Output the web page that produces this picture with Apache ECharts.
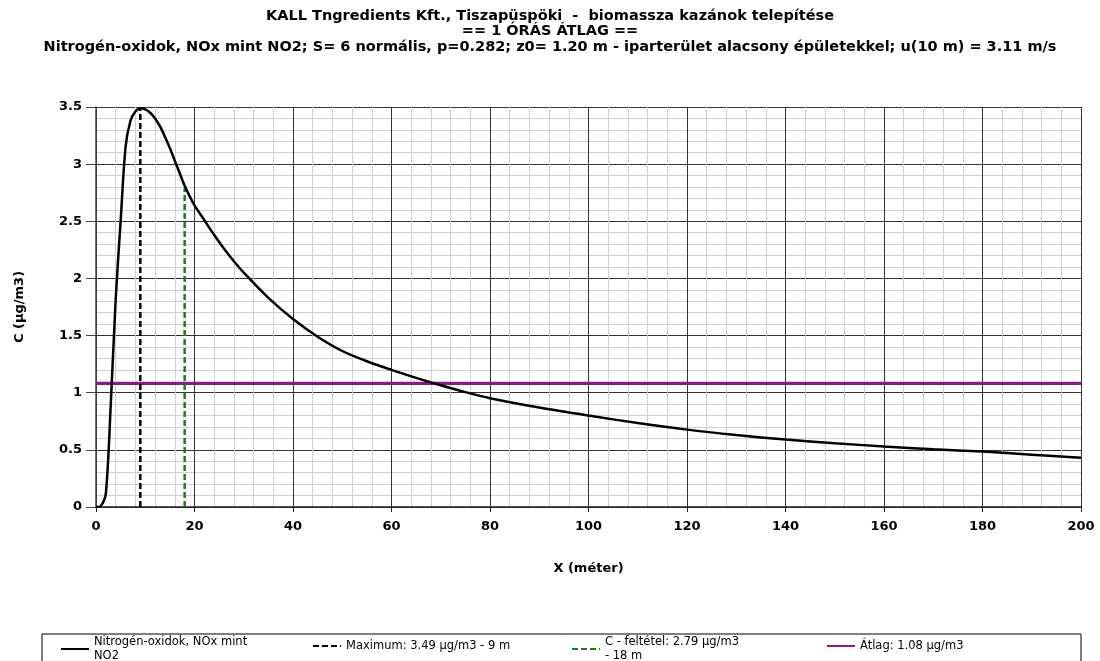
<!DOCTYPE html>
<html>
<head>
<meta charset="utf-8">
<script src="https://cdn.jsdelivr.net/npm/echarts@6/dist/echarts.min.js"></script>
<style>
  html, body { margin: 0; padding: 0; background: #fff; }
  #chart { width: 1100px; height: 661px; }
</style>
</head>
<body>
<div id="chart"></div>
<script>
// távolság (m)
const xValues = [0, 1, 2, 3, 4, 5, 6, 7, 8, 9, 10, 11, 12, 13, 14, 15, 16, 17, 18, 19, 20,
    22, 24, 26, 28, 30, 35, 40, 45, 50, 55, 60, 65, 70, 75, 80, 90, 100, 110, 120,
    130, 140, 150, 160, 170, 180, 190, 200];
// koncentráció (µg/m3)
const cValues = [0, 0.01, 0.12, 0.9, 1.82, 2.5, 3.15, 3.38, 3.46, 3.49, 3.48, 3.45, 3.4, 3.33, 3.24, 3.14, 3.03, 2.92, 2.81, 2.72, 2.64,
    2.51, 2.38, 2.26, 2.15, 2.05, 1.83, 1.645, 1.49, 1.365, 1.275, 1.2, 1.13, 1.065, 1.005, 0.952, 0.87, 0.8, 0.735, 0.677,
    0.63, 0.59, 0.558, 0.53, 0.505, 0.485, 0.458, 0.43];

const maxPoint = [9, 3.49];
const limitPoint = [18, 2.79];
const average = 1.08;
const xRange = [0, 200];

const names = {
    curve: 'Nitrogén-oxidok, NOx mint NO2',
    max: 'Maximum: 3.49 µg/m3 - 9 m',
    limit: 'C - feltétel: 2.79 µg/m3 - 18 m',
    avg: 'Átlag: 1.08 µg/m3'
};
const legendLabels = {};
legendLabels[names.curve] = 'Nitrogén-oxidok, NOx mint\nNO2';
legendLabels[names.max] = 'Maximum: 3.49 µg/m3 - 9 m';
legendLabels[names.limit] = 'C - feltétel: 2.79 µg/m3\n- 18 m';
legendLabels[names.avg] = 'Átlag: 1.08 µg/m3';

const font = 'DejaVu Sans';

function legendAt(name, left, top) {
    return {
        data: [name],
        left: left,
        top: top,
        itemWidth: 28,
        itemHeight: 10,
        itemGap: 0,
        selectedMode: false,
        itemStyle: { opacity: 0 },
        textStyle: { fontFamily: font, fontSize: 11.5, color: '#000', lineHeight: 14 },
        formatter: function(n) { return legendLabels[n]; }
    };
}

const chart = echarts.init(document.getElementById('chart'));
chart.setOption({
    animation: false,
    backgroundColor: '#fff',
    title: {
        text: 'KALL Tngredients Kft., Tiszapüspöki  -  biomassza kazánok telepítése\n== 1 ÓRÁS ÁTLAG ==\nNitrogén-oxidok, NOx mint NO2; S= 6 normális, p=0.282; z0= 1.20 m - iparterület alacsony épületekkel; u(10 m) = 3.11 m/s',
        left: 'center',
        top: 3,
        textStyle: { fontFamily: font, fontSize: 14.5, fontWeight: 'bold', color: '#000', lineHeight: 15.5 }
    },
    legend: [
        legendAt(names.curve, 55, 630),
        legendAt(names.max, 307, 634),
        legendAt(names.limit, 566, 630),
        legendAt(names.avg, 821, 634)
    ],
    graphic: [{
        type: 'rect',
        shape: { x: 42, y: 634, width: 1039, height: 40 },
        style: { fill: 'none', stroke: '#000', lineWidth: 1 },
        silent: true
    }],
    grid: { left: 96, right: 19, top: 107, bottom: 154 },
    xAxis: {
        type: 'value',
        min: xRange[0],
        max: xRange[1],
        interval: 20,
        name: 'X (méter)',
        nameLocation: 'middle',
        nameGap: 55,
        nameTextStyle: { fontFamily: font, fontSize: 13, fontWeight: 'bold', color: '#000' },
        axisLine: { lineStyle: { color: '#222', width: 1.5 } },
        axisTick: { show: true, length: 5, lineStyle: { color: '#222' } },
        axisLabel: { fontFamily: font, fontSize: 13, fontWeight: 'bold', color: '#000', margin: 13 },
        splitLine: { show: true, lineStyle: { color: '#333', width: 1 } },
        minorTick: { show: false, splitNumber: 5 },
        minorSplitLine: { show: true, lineStyle: { color: '#cfcfcf', width: 1 } }
    },
    yAxis: {
        type: 'value',
        min: 0,
        max: 3.5,
        interval: 0.5,
        name: 'C (µg/m3)',
        nameLocation: 'middle',
        nameGap: 70,
        nameTextStyle: { fontFamily: font, fontSize: 13, fontWeight: 'bold', color: '#000' },
        axisLine: { show: true, lineStyle: { color: '#444', width: 1.5 } },
        axisTick: { show: true, length: 10, lineStyle: { color: '#444' } },
        axisLabel: { fontFamily: font, fontSize: 13, fontWeight: 'bold', color: '#000', margin: 14 },
        splitLine: { show: true, lineStyle: { color: '#333', width: 1 } },
        minorTick: { show: false, splitNumber: 5 },
        minorSplitLine: { show: true, lineStyle: { color: '#cfcfcf', width: 1 } }
    },
    series: [
        {
            name: names.avg,
            type: 'line',
            symbol: 'none',
            data: [[xRange[0], average], [xRange[1], average]],
            lineStyle: { color: '#8b1a89', width: 3 },
            itemStyle: { color: '#8b1a89' },
            z: 3
        },
        {
            name: names.max,
            type: 'line',
            symbol: 'none',
            data: [[maxPoint[0], 0], maxPoint],
            lineStyle: { color: '#000', width: 2.5, type: [6, 3] },
            itemStyle: { color: '#000' },
            z: 4
        },
        {
            name: names.limit,
            type: 'line',
            symbol: 'none',
            data: [[limitPoint[0], 0], limitPoint],
            lineStyle: { color: '#1d7a1d', width: 2.5, type: [6, 3] },
            itemStyle: { color: '#1d7a1d' },
            z: 4
        },
        {
            name: names.curve,
            type: 'line',
            symbol: 'none',
            smooth: 0.3,
            data: xValues.map((x, i) => [x, cValues[i]]),
            lineStyle: { color: '#000', width: 2.5 },
            itemStyle: { color: '#000' },
            z: 5
        }
    ]
});
</script>
</body>
</html>
